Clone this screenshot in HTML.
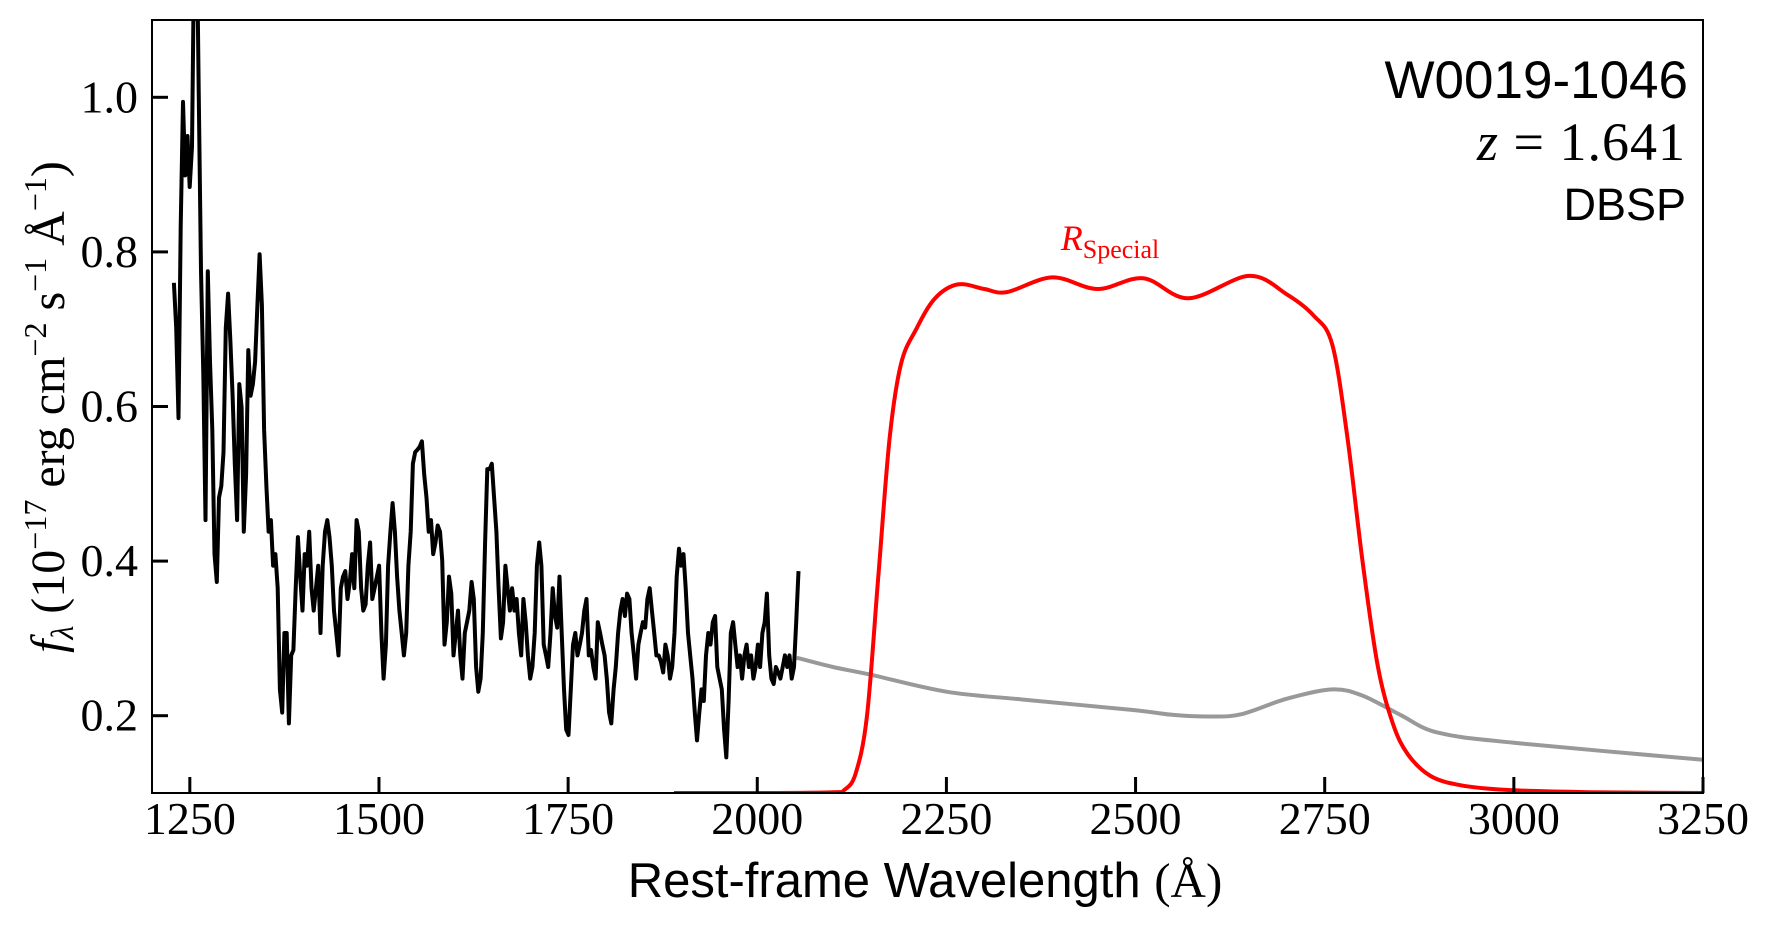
<!DOCTYPE html>
<html><head><meta charset="utf-8"><style>
html,body{margin:0;padding:0;background:#fff;}
svg{display:block;}
</style></head><body>
<svg id="chart" width="1765" height="932" viewBox="0 0 1765 932" xmlns="http://www.w3.org/2000/svg">
<defs><clipPath id="plotclip"><rect x="152" y="20" width="1551" height="773"/></clipPath></defs>
<g id="plot" clip-path="url(#plotclip)"></g>
<rect x="152" y="20" width="1551" height="773" fill="none" stroke="#000" stroke-width="2"/>
<g id="axes"></g>
<text x="1688" y="98" text-anchor="end" font-family="Liberation Sans, sans-serif" font-size="53">W0019-1046</text>
<text x="1686" y="160" text-anchor="end" font-family="Liberation Serif, serif" font-size="54" letter-spacing="1"><tspan font-style="italic">z</tspan> = 1.641</text>
<text x="1686" y="220" text-anchor="end" font-family="Liberation Sans, sans-serif" font-size="45">DBSP</text>
<text x="1110" y="250" text-anchor="middle" fill="#ff0000" font-family="Liberation Serif, serif" font-size="36"><tspan font-style="italic">R</tspan><tspan font-size="26" dy="8">Special</tspan></text>
<text x="925" y="897" text-anchor="middle" font-family="Liberation Sans, sans-serif" font-size="49">Rest-frame Wavelength <tspan font-family="Liberation Serif, serif">(Å)</tspan></text>
<text transform="translate(64,407) rotate(-90)" text-anchor="middle" font-family="Liberation Serif, serif" font-size="48"><tspan font-style="italic">f</tspan><tspan font-size="32" dy="9" font-style="italic">λ</tspan><tspan dy="-9"> (10</tspan><tspan font-size="32" dy="-18">−17</tspan><tspan dy="18"> erg cm</tspan><tspan font-size="32" dy="-18">−2</tspan><tspan dy="18"> s</tspan><tspan font-size="32" dy="-18">−1</tspan><tspan dy="18"> Å</tspan><tspan font-size="32" dy="-18">−1</tspan><tspan dy="18">)</tspan></text>
</svg>
<script>
const xTicks = [1250,1500,1750,2000,2250,2500,2750,3000,3250];
const yTicks = [0.2,0.4,0.6,0.8,1.0];
const specStart = 1229;
const specStep = 2.98;
const specFlux = [0.760,0.702,0.585,0.833,0.994,0.899,0.950,0.884,0.936,1.2,1.25,1.009,0.775,0.643,0.453,0.775,0.658,0.570,0.409,0.373,0.482,0.497,0.541,0.702,0.746,0.687,0.614,0.526,0.453,0.629,0.599,0.438,0.512,0.673,0.614,0.629,0.658,0.731,0.797,0.731,0.570,0.497,0.438,0.453,0.394,0.409,0.365,0.234,0.204,0.307,0.307,0.190,0.278,0.285,0.365,0.431,0.380,0.336,0.409,0.394,0.438,0.365,0.336,0.365,0.394,0.307,0.394,0.438,0.453,0.431,0.394,0.336,0.307,0.278,0.365,0.380,0.387,0.351,0.373,0.409,0.365,0.453,0.438,0.365,0.336,0.344,0.394,0.424,0.351,0.365,0.380,0.394,0.307,0.248,0.292,0.394,0.438,0.475,0.438,0.380,0.336,0.307,0.278,0.307,0.394,0.438,0.526,0.541,0.544,0.548,0.555,0.512,0.482,0.438,0.453,0.409,0.424,0.446,0.438,0.401,0.292,0.321,0.380,0.358,0.278,0.307,0.336,0.278,0.248,0.307,0.321,0.336,0.373,0.351,0.263,0.231,0.248,0.307,0.424,0.519,0.519,0.526,0.482,0.438,0.365,0.300,0.321,0.394,0.365,0.336,0.365,0.336,0.351,0.307,0.278,0.351,0.321,0.278,0.248,0.263,0.307,0.394,0.424,0.394,0.292,0.278,0.263,0.307,0.365,0.329,0.314,0.380,0.307,0.234,0.182,0.175,0.234,0.292,0.307,0.278,0.292,0.307,0.336,0.351,0.278,0.285,0.263,0.248,0.321,0.307,0.292,0.278,0.248,0.204,0.190,0.234,0.263,0.307,0.336,0.351,0.329,0.358,0.351,0.307,0.278,0.248,0.292,0.307,0.321,0.314,0.351,0.365,0.336,0.307,0.278,0.278,0.270,0.256,0.292,0.278,0.248,0.263,0.307,0.380,0.416,0.394,0.409,0.365,0.307,0.278,0.248,0.204,0.168,0.204,0.234,0.219,0.278,0.307,0.292,0.321,0.329,0.263,0.248,0.234,0.182,0.146,0.219,0.307,0.321,0.292,0.263,0.278,0.248,0.278,0.292,0.263,0.278,0.248,0.263,0.292,0.263,0.307,0.321,0.358,0.278,0.248,0.241,0.263,0.256,0.248,0.263,0.278,0.263,0.278,0.248,0.263,0.321,0.387];
const modelWave = [2052,2100,2150,2250,2350,2500,2550,2600,2640,2700,2760,2800,2850,2900,3000,3250];
const modelFlux = [0.275,0.263,0.253,0.231,0.221,0.207,0.201,0.199,0.202,0.222,0.234,0.226,0.201,0.178,0.165,0.143];
const filterWave = [1890,2000,2100,2115,2130,2145,2160,2175,2190,2210,2235,2265,2300,2330,2390,2450,2510,2570,2650,2700,2735,2760,2780,2800,2820,2840,2860,2890,2930,2990,3100,3250];
const filterResp = [0.100,0.100,0.101,0.104,0.125,0.20,0.38,0.56,0.655,0.700,0.740,0.758,0.752,0.748,0.767,0.752,0.766,0.740,0.769,0.745,0.718,0.680,0.560,0.400,0.265,0.190,0.150,0.122,0.110,0.104,0.101,0.100];

const X0=152,X1=1703,Y0=793,Y1=20;
const xmin=1200,xmax=3250,ymin=0.1,ymax=1.1;
function sx(v){return X0+(v-xmin)/(xmax-xmin)*(X1-X0);}
function sy(v){return Y0-(v-ymin)/(ymax-ymin)*(Y0-Y1);}
const NS="http://www.w3.org/2000/svg";
const plot=document.getElementById('plot');
const axes=document.getElementById('axes');
function smoothPath(pts){
  let d=`M${pts[0][0].toFixed(1)},${pts[0][1].toFixed(1)}`;
  for(let i=0;i<pts.length-1;i++){
    const p0=pts[Math.max(0,i-1)],p1=pts[i],p2=pts[i+1],p3=pts[Math.min(pts.length-1,i+2)];
    const c1=[p1[0]+(p2[0]-p0[0])/6,p1[1]+(p2[1]-p0[1])/6];
    const c2=[p2[0]-(p3[0]-p1[0])/6,p2[1]-(p3[1]-p1[1])/6];
    d+=` C${c1[0].toFixed(1)},${c1[1].toFixed(1)} ${c2[0].toFixed(1)},${c2[1].toFixed(1)} ${p2[0].toFixed(1)},${p2[1].toFixed(1)}`;
  }
  return d;
}
const mp=modelWave.map((w,i)=>[sx(w),sy(modelFlux[i])]);
const model=document.createElementNS(NS,'path');
model.setAttribute('d',smoothPath(mp));
model.setAttribute('fill','none');model.setAttribute('stroke','#999');model.setAttribute('stroke-width','4');


plot.appendChild(model);
const fp=filterWave.map((w,i)=>[sx(w),sy(filterResp[i])]);
const filt=document.createElementNS(NS,'path');
filt.setAttribute('d',smoothPath(fp));
filt.setAttribute('fill','none');filt.setAttribute('stroke','#ff0000');filt.setAttribute('stroke-width','4');


plot.appendChild(filt);
const sp=specFlux.map((f,i)=>`${sx(specStart+i*specStep).toFixed(1)},${sy(f).toFixed(1)}`).join(' ');
const spec=document.createElementNS(NS,'polyline');
spec.setAttribute('points',sp);
spec.setAttribute('fill','none');spec.setAttribute('stroke','#000');spec.setAttribute('stroke-width','4');spec.setAttribute('stroke-linejoin','round');


plot.appendChild(spec);
xTicks.forEach(t=>{
  const l=document.createElementNS(NS,'line');
  l.setAttribute('x1',sx(t));l.setAttribute('x2',sx(t));l.setAttribute('y1',Y0);l.setAttribute('y2',Y0-16);
  l.setAttribute('stroke','#000');l.setAttribute('stroke-width','3');
  
  
  axes.appendChild(l);
  const tx=document.createElementNS(NS,'text');
  tx.setAttribute('x',sx(t));tx.setAttribute('y',834);tx.setAttribute('text-anchor','middle');
  tx.setAttribute('font-family','Liberation Serif, serif');tx.setAttribute('font-size','46');
  tx.textContent=t;
  
  
  axes.appendChild(tx);
});
yTicks.forEach(t=>{
  const l=document.createElementNS(NS,'line');
  l.setAttribute('x1',X0);l.setAttribute('x2',X0+16);l.setAttribute('y1',sy(t));l.setAttribute('y2',sy(t));
  l.setAttribute('stroke','#000');l.setAttribute('stroke-width','3');
  
  
  axes.appendChild(l);
  const tx=document.createElementNS(NS,'text');
  tx.setAttribute('x',138);tx.setAttribute('y',sy(t)+15);tx.setAttribute('text-anchor','end');
  tx.setAttribute('font-family','Liberation Serif, serif');tx.setAttribute('font-size','46');
  tx.textContent=t.toFixed(1);
  
  
  axes.appendChild(tx);
});
</script>
</body></html>
